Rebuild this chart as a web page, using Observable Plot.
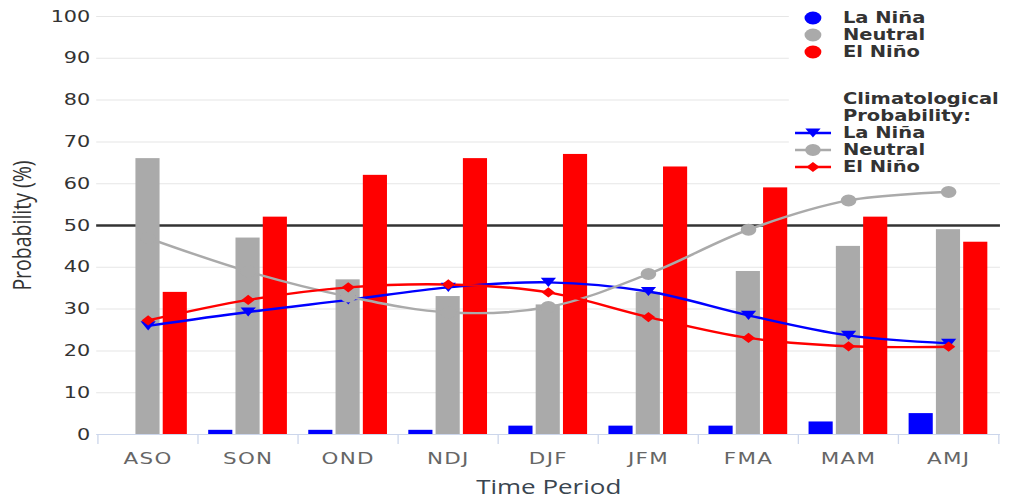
<!DOCTYPE html>
<html>
<head>
<meta charset="utf-8">
<script src="https://cdn.jsdelivr.net/npm/d3@7"></script>
<script src="https://cdn.jsdelivr.net/npm/@observablehq/plot@0.6"></script>
<style>
  html, body { margin: 0; padding: 0; background: #fff; }
  #chart svg { display: block; }
  #chart g[aria-label="x-axis tick label"] text { letter-spacing: 1px; }
</style>
</head>
<body>
<div id="chart"></div>
<script>
// ENSO outlook: forecast probabilities (bars) and climatological probabilities (lines)
const periods = ["ASO", "SON", "OND", "NDJ", "DJF", "JFM", "FMA", "MAM", "AMJ"];
const seriesNames = ["La Niña", "Neutral", "El Niño"];
const seriesColors = ["#0000ff", "#aaaaaa", "#ff0000"];

const laNinaForecast  = [0, 1, 1, 1, 2, 2, 2, 3, 5];
const neutralForecast = [66, 47, 37, 33, 31, 34, 39, 45, 49];
const elNinoForecast  = [34, 52, 62, 66, 67, 64, 59, 52, 46];

const laNinaClimo  = [26, 29.3, 32.2, 35.2, 36.4, 34.2, 28.5, 23.7, 21.8];
const neutralClimo = [47, 39, 33, 29.2, 30.5, 38.4, 49, 56, 58];
const elNinoClimo  = [27.3, 32.2, 35.2, 35.9, 34, 28.1, 23.1, 21.1, 21];

const yTicks = [0, 10, 20, 30, 40, 50, 60, 70, 80, 90, 100];
const referenceLevel = [50];

// long tables built from the arrays above
const forecast = [laNinaForecast, neutralForecast, elNinoForecast];
const climo = [laNinaClimo, neutralClimo, elNinoClimo];
const forecastRows = seriesNames.flatMap((s, k) =>
  periods.map((p, i) => ({period: p, series: s, value: forecast[k][i]})));
const climoRows = seriesNames.flatMap((s, k) =>
  periods.map((p, i) => ({period: p, series: s, value: climo[k][i]})));

// drawing space (stretched horizontally onto the page width)
const pageW = 1011, H = 504, W = 778;
const mL = 74, mR = 8.5, mT = 16, mB = 70;
const bw = (W - mL - mR) / periods.length;
const barW = 18.85, gap = 2.15;
const pad = (bw - 3 * barW - 2 * gap) / 2;
const plotH = H - mT - mB;

// downward-pointing triangle marker
const triangleDown = {
  draw(context, size) {
    const s = Math.sqrt(size);
    const w = 0.72 * s, h = 0.56 * s;
    context.moveTo(-w, -h);
    context.lineTo(w, -h);
    context.lineTo(0, h);
    context.closePath();
  }
};
const markerSymbols = [triangleDown, "circle", "diamond2"];
const markerR = [4.6, 6, 4.6];

const sans = "'DejaVu Sans', Verdana, sans-serif";

function legend() {
  return () => {
    const g = d3.create("svg:g")
      .attr("font-family", sans)
      .attr("font-weight", "bold")
      .attr("font-size", 15)
      .attr("text-anchor", "start")
      .attr("fill", "#333");
    g.append("rect").attr("x", 607).attr("y", 0)
      .attr("width", W - 607).attr("height", 177).attr("fill", "white");
    const cx = 625.6, tx = 648.7;
    const rowsTop = [18, 35, 52];
    seriesNames.forEach((s, k) => {
      g.append("circle").attr("cx", cx).attr("cy", rowsTop[k]).attr("r", 6.5)
        .attr("fill", seriesColors[k]);
      g.append("text").attr("x", tx).attr("y", rowsTop[k]).attr("dy", "0.36em").text(s);
    });
    g.append("text").attr("x", tx).attr("y", 99).attr("dy", "0.36em").text("Climatological");
    g.append("text").attr("x", tx).attr("y", 116).attr("dy", "0.36em").text("Probability:");
    const rowsBottom = [133, 150, 167];
    seriesNames.forEach((s, k) => {
      const y = rowsBottom[k];
      g.append("line").attr("x1", 611.8).attr("x2", 639.5).attr("y1", y).attr("y2", y)
        .attr("stroke", seriesColors[k]).attr("stroke-width", 2.5);
      const sym = markerSymbols[k];
      const symbol = typeof sym === "string"
        ? (sym === "circle" ? d3.symbolCircle : d3.symbolDiamond2) : sym;
      const size = Math.PI * markerR[k] * markerR[k];
      g.append("path").attr("transform", `translate(${cx},${y})`)
        .attr("d", d3.symbol(symbol, size)()).attr("fill", seriesColors[k]);
      g.append("text").attr("x", tx).attr("y", y).attr("dy", "0.36em").text(s);
    });
    return g.node();
  };
}

const marks = [
  // horizontal grid
  Plot.ruleY(yTicks.filter(t => t !== 0 && t !== 50), {stroke: "#e6e6e6", strokeWidth: 1}),
  Plot.ruleY(referenceLevel, {stroke: "#333", strokeWidth: 2.4}),
  // forecast bars, grouped inside each period
  ...seriesNames.map((s, k) => Plot.barY(forecastRows.filter(d => d.series === s), {
    x: "period", y: "value", fill: seriesColors[k],
    insetLeft: pad + k * (barW + gap),
    insetRight: bw - pad - k * (barW + gap) - barW
  })),
  // x axis line and band separators
  Plot.ruleY([0], {stroke: "#ccd6eb", strokeWidth: 1}),
  Plot.ruleX(periods, {x: d => d, dx: -bw / 2, insetTop: plotH, insetBottom: -10, stroke: "#ccd6eb"}),
  Plot.ruleX(periods.slice(-1), {x: d => d, dx: bw / 2, insetTop: plotH, insetBottom: -10, stroke: "#ccd6eb"}),
  // climatological probabilities
  ...seriesNames.map((s, k) => Plot.line(climoRows.filter(d => d.series === s), {
    x: "period", y: "value", stroke: seriesColors[k], strokeWidth: 2.4, curve: "catmull-rom"
  })),
  ...seriesNames.map((s, k) => Plot.dot(climoRows.filter(d => d.series === s), {
    x: "period", y: "value", fill: seriesColors[k], symbol: () => markerSymbols[k], r: markerR[k]
  })),
  legend(),
  // axes
  Plot.axisY(yTicks, {tickSize: 0, tickPadding: 5, fontSize: 16, fill: "#333", fontFamily: sans, label: null}),
  Plot.axisX({tickSize: 0, tickPadding: 17.5, fontSize: 16.5, fill: "#666", fontFamily: sans, label: null}),
  Plot.text(["Probability (%)"], {
    frameAnchor: "left", dx: -57, rotate: -90, lineAnchor: "middle", textAnchor: "middle",
    fontSize: 19.5, fontFamily: "'Open Sans', sans-serif", fill: "#333"
  }),
  Plot.text(["Time Period"], {
    frameAnchor: "bottom", dy: 53, lineAnchor: "middle",
    fontSize: 20, fontFamily: "'Open Sans', sans-serif", fill: "#3a4550"
  })
];

const chart = Plot.plot({
  width: W,
  height: H,
  marginLeft: mL,
  marginRight: mR,
  marginTop: mT,
  marginBottom: mB,
  x: {domain: periods, padding: 0, axis: null},
  y: {domain: [0, 100], axis: null},
  symbol: {type: "identity"},
  style: {fontFamily: sans, background: "white", overflow: "visible"},
  marks
});

chart.setAttribute("width", pageW);
chart.setAttribute("height", H);
chart.setAttribute("preserveAspectRatio", "none");
chart.style.width = pageW + "px";
chart.style.height = H + "px";
chart.style.maxWidth = "none";
document.getElementById("chart").appendChild(chart);
</script>
</body>
</html>
